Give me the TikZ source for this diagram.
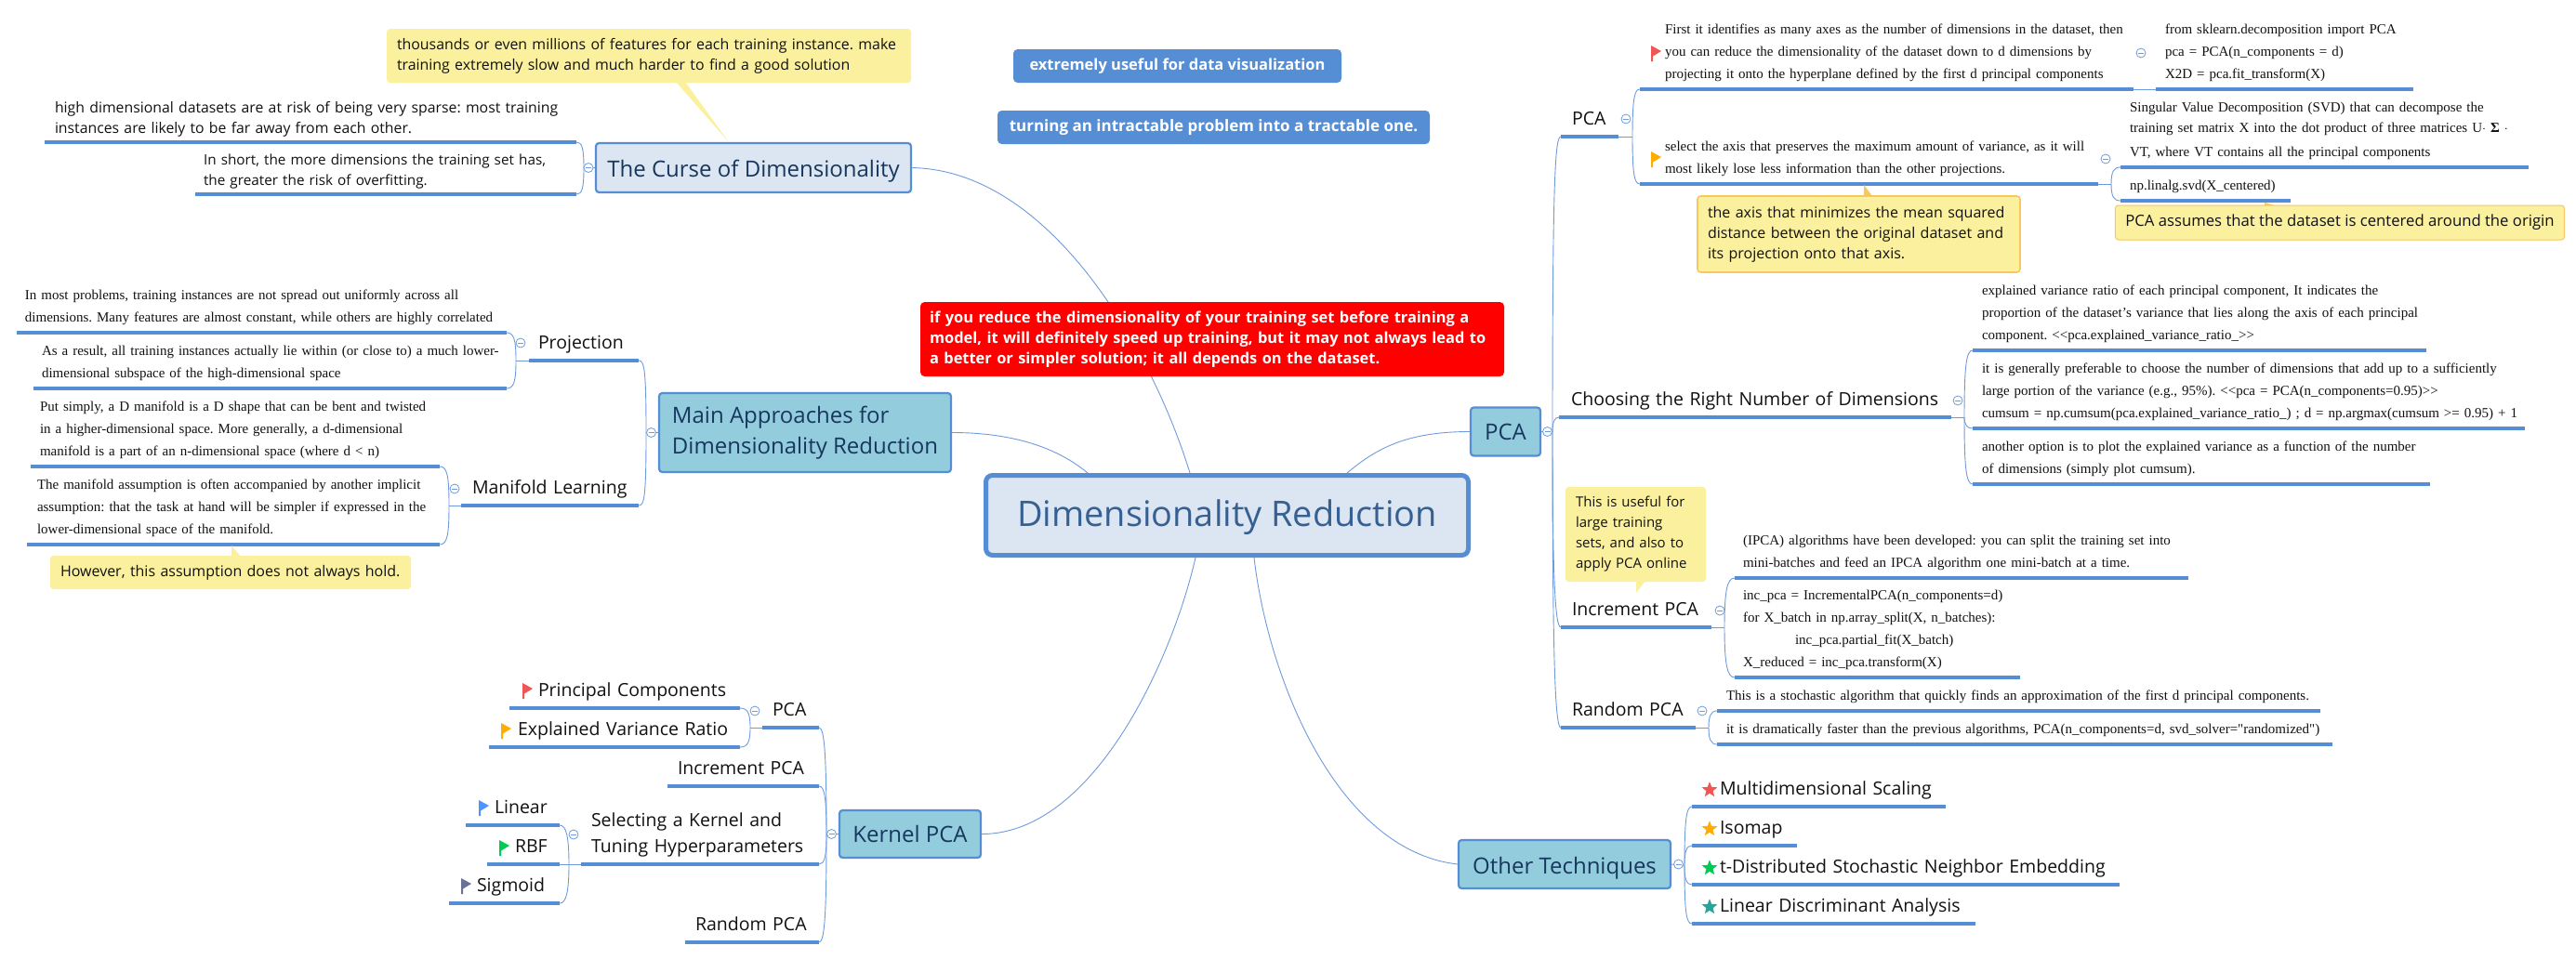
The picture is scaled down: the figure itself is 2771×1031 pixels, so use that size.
\documentclass[tikz,border=0pt]{standalone}
\usepackage{fontspec}
\usepackage{tikz}
\usetikzlibrary{positioning,shapes.geometric,calc}
\setmainfont{Open Sans}
\newfontfamily\leaffont{Liberation Serif}
\frenchspacing
\definecolor{Edge}{HTML}{558ED5}
\definecolor{Wire}{HTML}{6F9BDC}
\definecolor{Pale}{HTML}{DCE6F2}
\definecolor{Aqua}{HTML}{93CDDD}
\definecolor{Navy}{HTML}{17375E}
\definecolor{Slate}{HTML}{376092}
\definecolor{Note}{HTML}{FBF09E}
\definecolor{NoteLine}{HTML}{F5C95C}
\definecolor{Ink}{HTML}{111111}
\definecolor{FlagRed}{HTML}{F25555}
\definecolor{FlagGold}{HTML}{FFAD00}
\definecolor{FlagBlue}{HTML}{4D94FF}
\definecolor{FlagGreen}{HTML}{00CC55}
\definecolor{FlagGrey}{HTML}{6B7394}
\definecolor{FlagTeal}{HTML}{26A69A}
\tikzset{
  lskip/.style={execute at begin node={\leftskip=#1\relax}},
  under/.style={draw=Edge, line width=3.2pt},
  link/.style={draw=Wire, line width=0.9pt},
  base/.style={anchor=south west, outer sep=0pt, inner xsep=0pt, text=Ink, lskip=11pt,
               execute at begin node={\rightskip=0pt plus 1fil\parfillskip=0pt\relax\strut},
               execute at end node={\strut},
               append after command={(\tikzlastnode.south west) edge[under] (\tikzlastnode.south east)}},
  bough/.style={base, inner ysep=4.6pt, font=\fontsize{19.5}{28}\selectfont},
  twig/.style={base, inner ysep=3.4pt, font=\fontsize{15.8}{22}\selectfont},
  leaf/.style={base, inner ysep=4.8pt, font=\leaffont\fontsize{15}{24}\selectfont},
  root/.style={draw=Edge, line width=5pt, rounded corners=2.5mm, fill=Pale, text=Slate,
               minimum width=519pt, minimum height=86pt, font=\fontsize{37.9}{44}\selectfont,
               text height=30pt, text depth=6pt},
  topic/.style={draw=Edge, line width=2.2pt, rounded corners=1.2mm, fill=Aqua, text=Navy, align=left,
                font=\fontsize{24}{33}\selectfont},
  note/.style={fill=Note, rounded corners=1.2mm, text=Ink, inner xsep=11pt, inner ysep=0pt, align=left,
               font=\fontsize{15.9}{22}\selectfont},
  banner/.style={fill=Edge, rounded corners=1.6mm, text=white, inner sep=0pt, align=left,
                 font=\bfseries\fontsize{16.4}{22}\selectfont},
  fold/.style={circle, draw=Wire, line width=0.8pt, fill=white, minimum size=10pt, inner sep=0pt,
               path picture={\draw[Wire, line width=0.8pt] ([xshift=2pt]path picture bounding box.west)
                             -- ([xshift=-2pt]path picture bounding box.east);}},
  starmark/.style={star, star points=5, star point ratio=2.3, minimum size=17.5pt, inner sep=0pt},
  flagpic/.pic={\fill (0,0) -- (11,6) -- (2,11.5) -- (2,17) -- (0,17) -- cycle;},
}
\begin{document}
\begin{tikzpicture}[x=1pt, y=-1pt, node distance=2pt]
  \path[use as bounding box, fill=white] (0,0) rectangle (2771,1031);

  \node[root] (main) at (1320,554.5) {Dimensionality Reduction};
  \node[topic, fill=Pale, minimum width=339pt, minimum height=53pt, text height=25pt, text depth=5pt] (curse) at (810.5,180.5) {The Curse of Dimensionality};
  \node[topic, minimum width=314pt, minimum height=85pt] (approach) at (866,465.5) {Main Approaches for\\Dimensionality Reduction};
  \node[topic, minimum width=152pt, minimum height=51pt] (kernel) at (979,897.5) {Kernel PCA};
  \node[topic, minimum width=75pt, minimum height=52pt] (pca) at (1619.5,464.5) {PCA};
  \node[topic, minimum width=228pt, minimum height=52pt, text height=25pt, text depth=5pt] (other) at (1683,930) {Other Techniques};

  \draw[link] (curse.east) .. controls +(150,3) and +(-40,-130) .. ([xshift=-40pt]main.north);
  \draw[link] (approach.east) .. controls +(70,0) and +(-30,-25) .. ([xshift=-150pt]main.north);
  \draw[link] (pca.west) .. controls +(-70,0) and +(30,-25) .. ([xshift=129pt]main.north);
  \draw[link] (kernel.east) .. controls +(120,0) and +(-25,110) .. ([xshift=-34pt]main.south);
  \draw[link] (other.west) .. controls +(-130,-15) and +(15,130) .. ([xshift=29pt]main.south);

  \node[note, minimum width=564pt, minimum height=58pt, text width=542pt] (thousands) at (698,60) {thousands or even millions of features for each training instance. make\\training extremely slow and much harder to find a good solution};
  \fill[Note] (727,88) -- (784,153) -- (737,88) -- cycle;
  \node[twig, text width=572pt] (sparse) at (48,153) {high dimensional datasets are at risk of being very sparse: most training\\instances are likely to be far away from each other.};
  \node[twig, text width=410pt, lskip=9pt, font=\fontsize{15.3}{22}\selectfont] (overfit) at (210,209) {In short, the more dimensions the training set has,\\the greater the risk of overfitting.};
  \coordinate (jcurse) at (628,181);
  \draw[link] (curse.west) -- (jcurse);
  \draw[link] (jcurse) .. controls +(0,-22) and +(6,0) .. (sparse.south east);
  \draw[link] (jcurse) .. controls +(0,22) and +(6,0) .. (overfit.south east);
  \node[fold, left=1.5pt of curse] (foldcurse) {};

  \node[bough, text width=118pt, lskip=10pt] (projection) at (569,388) {Projection};
  \node[bough, text width=191pt, lskip=12pt] (manifold) at (496,544) {Manifold Learning};
  \node[leaf, text width=527pt, lskip=9pt] (uniform) at (18,358) {In most problems, training instances are not spread out uniformly across all\\dimensions. Many features are almost constant, while others are highly correlated};
  \node[leaf, text width=509pt, lskip=9pt] (subspace) at (36,418) {As a result, all training instances actually lie within (or close to) a much lower-\\dimensional subspace of the high-dimensional space};
  \node[leaf, text width=440pt, lskip=10pt] (bent) at (33,502) {Put simply, a D manifold is a D shape that can be bent and twisted\\in a higher-dimensional space. More generally, a d-dimensional\\manifold is a part of an n-dimensional space (where d < n)};
  \node[leaf, text width=444pt] (assume) at (29,586) {The manifold assumption is often accompanied by another implicit\\assumption: that the task at hand will be simpler if expressed in the\\lower-dimensional space of the manifold.};
  \node[note, minimum width=388pt, minimum height=36pt, text width=366pt, font=\fontsize{16}{22}\selectfont] (hold) at (248,616) {However, this assumption does not always hold.};
  \fill[Note] (249,587) -- (258,598) -- (249,598) -- cycle;
  \coordinate (japproach) at (695,466);
  \coordinate (jprojection) at (555,388);
  \coordinate (jmanifold) at (483,544);
  \draw[link] (approach.west) -- (japproach);
  \draw[link] (japproach) .. controls +(0,-70) and +(6,0) .. (projection.south east);
  \draw[link] (japproach) .. controls +(0,70) and +(6,0) .. (manifold.south east);
  \draw[link] (projection.south west) -- (jprojection);
  \draw[link] (jprojection) .. controls +(0,-22) and +(8,0) .. (uniform.south east);
  \draw[link] (jprojection) .. controls +(0,22) and +(8,0) .. (subspace.south east);
  \draw[link] (manifold.south west) -- (jmanifold);
  \draw[link] (jmanifold) .. controls +(0,-32) and +(8,0) .. (bent.south east);
  \draw[link] (jmanifold) .. controls +(0,32) and +(8,0) .. (assume.south east);
  \node[fold, left=2pt of approach] (foldapproach) {};
  \node[fold] (foldprojection) at (560,369) {};
  \node[fold] (foldmanifold) at (489,526) {};

  \node[bough, text width=61pt] (kpca) at (820,783) {PCA};
  \node[bough, text width=163pt] (kinc) at (718,846) {Increment PCA};
  \node[bough, text width=256pt] (ksel) at (625,930) {Selecting a Kernel and\\Tuning Hyperparameters};
  \node[bough, text width=144pt] (krand) at (737,1014) {Random PCA};
  \node[bough, text width=248pt, lskip=31pt] (princ) at (548,762) {Principal Components};
  \node[bough, text width=270pt, lskip=31pt] (expl) at (526,804) {Explained Variance Ratio};
  \node[bough, text width=101pt, lskip=31pt] (linear) at (501,888) {Linear};
  \node[bough, text width=78pt, lskip=30pt] (rbf) at (524,930) {RBF};
  \node[bough, text width=119pt, lskip=30pt] (sigmoid) at (483,972) {Sigmoid};
  \pic[fill=FlagRed] at (562,735) {flagpic};
  \pic[fill=FlagGold] at (539,778) {flagpic};
  \pic[fill=FlagBlue] at (515,861) {flagpic};
  \pic[fill=FlagGreen] at (537,904) {flagpic};
  \pic[fill=FlagGrey] at (496,945) {flagpic};
  \coordinate (jkernel) at (889,899);
  \coordinate (jkpca) at (807,783);
  \coordinate (jksel) at (612,930);
  \draw[link] (kernel.west) -- (jkernel);
  \draw[link] (jkernel) .. controls +(0,-85) and +(6,0) .. (kpca.south east);
  \draw[link] (jkernel) .. controls +(0,-40) and +(6,0) .. (kinc.south east);
  \draw[link] (jkernel) .. controls +(0,22) and +(6,0) .. (ksel.south east);
  \draw[link] (jkernel) .. controls +(0,85) and +(6,0) .. (krand.south east);
  \draw[link] (kpca.south west) -- (jkpca);
  \draw[link] (jkpca) .. controls +(0,-16) and +(8,0) .. (princ.south east);
  \draw[link] (jkpca) .. controls +(0,16) and +(8,0) .. (expl.south east);
  \draw[link] (ksel.south west) -- (jksel);
  \draw[link] (jksel) .. controls +(0,-30) and +(7,0) .. (linear.south east);
  \draw[link] (jksel) -- (rbf.south east);
  \draw[link] (jksel) .. controls +(0,30) and +(7,0) .. (sigmoid.south east);
  \node[fold, left=2pt of kernel] (foldkernel) {};
  \node[fold] (foldkpca) at (812,765) {};
  \node[fold] (foldksel) at (617,898) {};

  \node[banner, minimum width=353pt, minimum height=36pt, font=\bfseries\fontsize{16.5}{22}\selectfont] (useful) at (1266.5,71) {extremely useful for data visualization};
  \node[banner, minimum width=465pt, minimum height=36pt, font=\bfseries\fontsize{17}{22}\selectfont] (tractable) at (1305.5,137) {turning an intractable problem into a tractable one.};
  \node[banner, fill=red, minimum width=628pt, minimum height=80pt, text width=608pt] (warning) at (1304,365) {if you reduce the dimensionality of your training set before training a\\model, it will definitely speed up training, but it may not always lead to\\a better or simpler solution; it all depends on the dataset.};

  \node[bough, text width=62pt, lskip=12pt] (rpca) at (1679,147) {PCA};
  \node[bough, text width=422pt, lskip=13pt] (choose) at (1677,449) {Choosing the Right Number of Dimensions};
  \node[bough, text width=162pt, lskip=12pt] (inc) at (1679,675) {Increment PCA};
  \node[bough, text width=145pt, lskip=12pt] (rand) at (1679,783) {Random PCA};
  \node[leaf, text width=531pt, lskip=27pt] (axes) at (1764,96) {First it identifies as many axes as the number of dimensions in the dataset, then\\you can reduce the dimensionality of the dataset down to d dimensions by\\projecting it onto the hyperplane defined by the first d principal components};
  \node[leaf, text width=277pt, lskip=10pt] (sklearn) at (2319,96) {from sklearn.decomposition import PCA\\pca = PCA(n\_components = d)\\X2D = pca.fit\_transform(X)};
  \node[leaf, text width=493pt, lskip=27pt] (variance) at (1764,198) {select the axis that preserves the maximum amount of variance, as it will\\most likely lose less information than the other projections.};
  \node[leaf, text width=439pt, lskip=10pt] (svd) at (2281,180) {Singular Value Decomposition (SVD) that can decompose the\\[-2pt]training set matrix X into the dot product of three matrices U$\cdot$ \textbf{Σ} $\cdot$\\[2pt]VT, where VT contains all the principal components};
  \node[leaf, text width=183pt, lskip=10pt] (linalg) at (2281,216) {np.linalg.svd(X\_centered)};
  \fill[NoteLine] (2005,199) -- (2014,211) -- (2005,211) -- cycle;
  \node[note, draw=NoteLine, line width=1.6pt, minimum width=347pt, minimum height=82pt, text width=325pt, font=\fontsize{16}{22}\selectfont] (minimize) at (1999.5,252) {the axis that minimizes the mean squared\\distance between the original dataset and\\its projection onto that axis.};
  \fill[NoteLine] (2436,218) -- (2450,222) -- (2436,222) -- cycle;
  \node[note, draw=NoteLine, line width=1pt, minimum width=474pt, minimum height=37pt, font=\fontsize{16.7}{22}\selectfont] (origin) at (2517,239.5) {PCA assumes that the dataset is centered around the origin};
  \fill[Note] (1760,638) -- (1770,625) -- (1760,625) -- cycle;
  \node[note, minimum width=151pt, minimum height=102pt, text width=129pt, font=\fontsize{15}{22}\selectfont] (online) at (1759.5,575) {This is useful for\\large training\\sets, and also to\\apply PCA online};
  \node[leaf, text width=488pt, lskip=10pt] (ratio) at (2122,377) {explained variance ratio of each principal component, It indicates the\\proportion of the dataset’s variance that lies along the axis of each principal\\component. <{}<pca.explained\_variance\_ratio\_>{}>};
  \node[leaf, text width=594pt, lskip=10pt] (prefer) at (2122,461) {it is generally preferable to choose the number of dimensions that add up to a sufficiently\\large portion of the variance (e.g., 95\%). <{}<pca = PCA(n\_components=0.95)>{}>\\cumsum = np.cumsum(pca.explained\_variance\_ratio\_) ; d = np.argmax(cumsum >= 0.95) + 1};
  \node[leaf, text width=492pt, lskip=10pt] (plot) at (2122,521) {another option is to plot the explained variance as a function of the number\\of dimensions (simply plot cumsum).};
  \node[leaf, text width=488pt, lskip=9pt] (ipca) at (1866,622) {(IPCA) algorithms have been developed: you can split the training set into\\mini-batches and feed an IPCA algorithm one mini-batch at a time.};
  \node[leaf, text width=307pt, lskip=9pt] (code) at (1866,729) {inc\_pca = IncrementalPCA(n\_components=d)\\for X\_batch in np.array\_split(X, n\_batches):\\\hspace*{56pt}inc\_pca.partial\_fit(X\_batch)\\X\_reduced = inc\_pca.transform(X)};
  \node[leaf, text width=649pt, lskip=10pt] (stochastic) at (1847,765) {This is a stochastic algorithm that quickly finds an approximation of the first d principal components.};
  \node[leaf, text width=662pt, lskip=10pt] (faster) at (1847,801) {it is dramatically faster than the previous algorithms, PCA(n\_components=d, svd\_solver="randomized")};
  \pic[fill=FlagRed] at (1776,49) {flagpic};
  \pic[fill=FlagGold] at (1776,163) {flagpic};
  \coordinate (jpca) at (1670,466);
  \coordinate (jrpca) at (1756,147);
  \coordinate (jvariance) at (2271,198);
  \coordinate (jchoose) at (2113,449);
  \coordinate (jinc) at (1855,675);
  \coordinate (jrand) at (1838,783);
  \draw[link] (pca.east) -- (jpca);
  \draw[link] (jpca) .. controls +(0,-280) and +(-6,0) .. (rpca.south west);
  \draw[link] (jpca) .. controls +(0,-12) and +(-5,0) .. (choose.south west);
  \draw[link] (jpca) .. controls +(0,160) and +(-6,0) .. (inc.south west);
  \draw[link] (jpca) .. controls +(0,250) and +(-6,0) .. (rand.south west);
  \draw[link] (rpca.south east) -- (jrpca);
  \draw[link] (jrpca) .. controls +(0,-40) and +(-6,0) .. (axes.south west);
  \draw[link] (jrpca) .. controls +(0,40) and +(-6,0) .. (variance.south west);
  \draw[link] (axes.south east) -- (sklearn.south west);
  \draw[link] (variance.south east) -- (jvariance);
  \draw[link] (jvariance) .. controls +(0,-14) and +(-7,0) .. (svd.south west);
  \draw[link] (jvariance) .. controls +(0,14) and +(-7,0) .. (linalg.south west);
  \draw[link] (choose.south east) -- (jchoose);
  \draw[link] (jchoose) .. controls +(0,-55) and +(-7,0) .. (ratio.south west);
  \draw[link] (jchoose) .. controls +(0,8) and +(-6,0) .. (prefer.south west);
  \draw[link] (jchoose) .. controls +(0,55) and +(-7,0) .. (plot.south west);
  \draw[link] (inc.south east) -- (jinc);
  \draw[link] (jinc) .. controls +(0,-40) and +(-8,0) .. (ipca.south west);
  \draw[link] (jinc) .. controls +(0,40) and +(-8,0) .. (code.south west);
  \draw[link] (rand.south east) -- (jrand);
  \draw[link] (jrand) .. controls +(0,-12) and +(-7,0) .. (stochastic.south west);
  \draw[link] (jrand) .. controls +(0,12) and +(-7,0) .. (faster.south west);
  \node[fold, right=1pt of pca] (foldpca) {};
  \node[fold] (foldrpca) at (1749,128) {};
  \node[fold] (foldaxes) at (2303,57) {};
  \node[fold] (foldvariance) at (2265,171) {};
  \node[fold] (foldchoose) at (2106,431) {};
  \node[fold] (foldinc) at (1850,657) {};
  \node[fold] (foldrand) at (1831,765) {};

  \node[bough, text width=273pt, lskip=30pt] (mds) at (1820,868) {Multidimensional Scaling};
  \node[bough, text width=113pt, lskip=30pt] (iso) at (1820,910) {Isomap};
  \node[bough, text width=460pt, lskip=30pt] (tsne) at (1820,952) {t-Distributed Stochastic Neighbor Embedding};
  \node[bough, text width=305pt, lskip=30pt] (lda) at (1820,994) {Linear Discriminant Analysis};
  \node[starmark, fill=FlagRed] (starmds) at (1839,850) {};
  \node[starmark, fill=FlagGold] (stariso) at (1839,892) {};
  \node[starmark, fill=FlagGreen] (startsne) at (1839,934) {};
  \node[starmark, fill=FlagTeal] (starlda) at (1839,976) {};
  \coordinate (jother) at (1812,932);
  \draw[link] (other.east) -- (jother);
  \draw[link] (jother) .. controls +(0,-50) and +(-6,0) .. (mds.south west);
  \draw[link] (jother) .. controls +(0,-16) and +(-6,0) .. (iso.south west);
  \draw[link] (jother) .. controls +(0,14) and +(-6,0) .. (tsne.south west);
  \draw[link] (jother) .. controls +(0,50) and +(-6,0) .. (lda.south west);
  \node[fold, right=2pt of other] (foldother) {};
\end{tikzpicture}
\end{document}
